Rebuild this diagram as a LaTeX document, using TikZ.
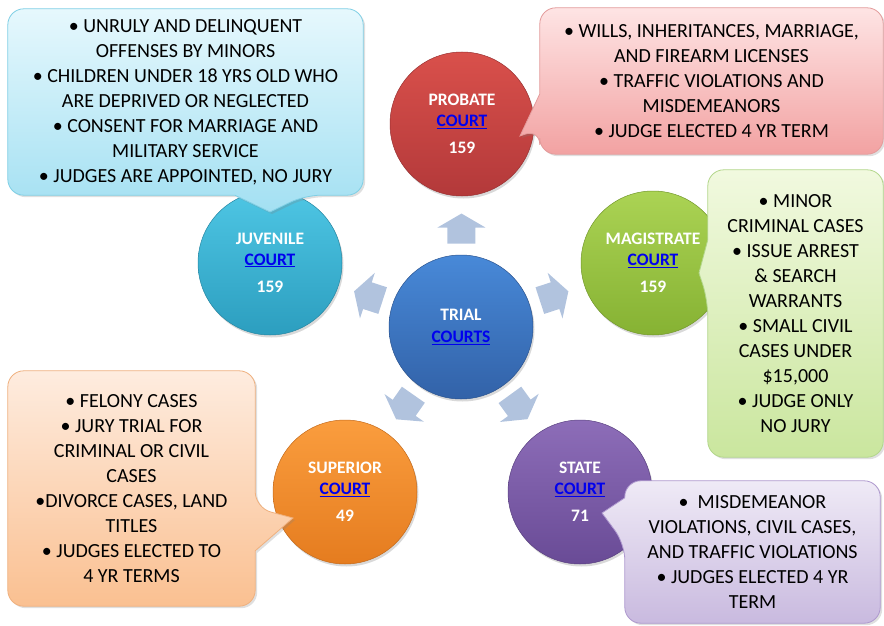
\documentclass[tikz,border=0pt]{standalone}
\usepackage{fontspec}
\setmainfont{Carlito}
\usetikzlibrary{calc,shadows}
\pgfdeclarelayer{bubbles}
\pgfdeclarelayer{notes}
\pgfsetlayers{main,bubbles,notes}

\definecolor{arrowblue}{HTML}{B1C3DE}
\definecolor{linkblue}{HTML}{0000EE}
\definecolor{trialtop}{HTML}{4889D8}\definecolor{trialbot}{HTML}{3262A8}
\definecolor{probtop}{HTML}{D9504B}\definecolor{probbot}{HTML}{B3393A}
\definecolor{juvtop}{HTML}{4EC6E4}\definecolor{juvbot}{HTML}{2C9EBF}
\definecolor{magtop}{HTML}{ABD354}\definecolor{magbot}{HTML}{86B233}
\definecolor{suptop}{HTML}{FA9D3E}\definecolor{supbot}{HTML}{E57C1F}
\definecolor{statetop}{HTML}{8D6DB8}\definecolor{statebot}{HTML}{694B96}
\definecolor{juvlight}{HTML}{E6F8FD}\definecolor{juvdark}{HTML}{A3E0F2}\definecolor{juvedge}{HTML}{7FCFE5}
\definecolor{problight}{HTML}{FEE4E4}\definecolor{probdark}{HTML}{F2A2A2}\definecolor{probedge}{HTML}{E39B9B}
\definecolor{maglight}{HTML}{F1F9DF}\definecolor{magdark}{HTML}{CAE69E}\definecolor{magedge}{HTML}{B2D68A}
\definecolor{suplight}{HTML}{FEECDF}\definecolor{supdark}{HTML}{FAC091}\definecolor{supedge}{HTML}{EFB07E}
\definecolor{statelight}{HTML}{EFEAF6}\definecolor{statedark}{HTML}{C9BADF}\definecolor{stateedge}{HTML}{AE98CE}

\newcommand\courtlink[1]{{\color{linkblue}\underline{#1}}}

\def\blockarrow#1#2{
\begin{scope}[shift={#1}, rotate=#2]
    \fill[arrowblue] (-15,-14) -- (1,-14) -- (1,-24) -- (15,0) -- (1,24) -- (1,14) -- (-15,14) -- cycle;
\end{scope}
}

\tikzset{
  court/.style={circle, minimum size=144pt, inner sep=0pt, align=center, text=white,
    font=\fontsize{17.5}{20.5}\selectfont\bfseries, draw=#1bot!85!black, line width=0.5pt,
    top color=#1top, bottom color=#1bot,
    drop shadow={opacity=0.3, shadow xshift=1.5pt, shadow yshift=-2.5pt}},
  note/.style={inner sep=0pt, align=center, font=\fontsize{20}{25}\selectfont},
  bubble/.style={draw=#1edge, line width=0.8pt, top color=#1light, bottom color=#1dark,
    drop shadow={opacity=0.25, shadow xshift=2pt, shadow yshift=-2pt}}
}

\begin{document}
\begin{tikzpicture}[x=1pt, y=-1pt]
    \useasboundingbox (0,0) rectangle (884,626);
    % courts
    \node[court=trial] (trial) at (461,327) {TRIAL\\[1pt]\courtlink{COURTS}};
    \node[court=prob] (probate) at (462,124) {PROBATE\\\courtlink{COURT}\\[7pt]159};
    \node[court=juv] (juvenile) at (270,263) {JUVENILE\\\courtlink{COURT}\\[7pt]159};
    \node[court=mag] (magistrate) at (653,263) {MAGISTRATE\\\courtlink{COURT}\\[7pt]159};
    \node[court=sup] (superior) at (345,492) {SUPERIOR\\\courtlink{COURT}\\[7pt]49};
    \node[court=state] (state) at (580,492) {STATE\\\courtlink{COURT}\\[7pt]71};
    \blockarrow{($(trial)!0.485!(probate)$)}{90};
    \blockarrow{($(trial)!0.485!(juvenile)$)}{162};
    \blockarrow{($(trial)!0.485!(magistrate)$)}{18};
    \blockarrow{($(trial)!0.485!(superior)$)}{235};
    \blockarrow{($(trial)!0.485!(state)$)}{306};
    % callouts
    \begin{pgfonlayer}{notes}
    \node[note, minimum width=355pt, minimum height=186pt] (juvbox) at (185.5,102)
        {\textbullet\ UNRULY AND DELINQUENT\\OFFENSES BY MINORS\\\textbullet\ CHILDREN UNDER 18 YRS OLD WHO\\ARE DEPRIVED OR NEGLECTED\\\textbullet\ CONSENT FOR MARRIAGE AND\\MILITARY SERVICE\\\textbullet\ JUDGES ARE APPOINTED, NO JURY};
    \node[note, minimum width=343pt, minimum height=146pt] (probbox) at (711.5,81)
        {\textbullet\ WILLS, INHERITANCES, MARRIAGE,\\AND FIREARM LICENSES\\\textbullet\ TRAFFIC VIOLATIONS AND\\MISDEMEANORS\\\textbullet\ JUDGE ELECTED 4 YR TERM};
    \node[note, minimum width=175pt, minimum height=287pt] (magbox) at (795.5,313.5)
        {\textbullet\ MINOR\\CRIMINAL CASES\\\textbullet\ ISSUE ARREST\\\& SEARCH\\WARRANTS\\\textbullet\ SMALL CIVIL\\CASES UNDER\\\$15,000\\\textbullet\ JUDGE ONLY\\NO JURY};
    \node[note, minimum width=247pt, minimum height=235pt] (supbox) at (131.5,488.5)
        {\textbullet\ FELONY CASES\\\textbullet\ JURY TRIAL FOR\\CRIMINAL OR CIVIL\\CASES\\\textbullet DIVORCE CASES, LAND\\TITLES\\\textbullet\ JUDGES ELECTED TO\\4 YR TERMS};
    \node[note, minimum width=255pt, minimum height=142pt] (statebox) at (752.5,552)
        {\textbullet~ MISDEMEANOR\\VIOLATIONS, CIVIL CASES,\\AND TRAFFIC VIOLATIONS\\\textbullet\ JUDGES ELECTED 4 YR\\TERM};
    \end{pgfonlayer}
    \coordinate (juvtip) at (270,212);
    \coordinate (probtip) at (520,136);
    \coordinate (magtip) at (699,273);
    \coordinate (suptip) at (293,518);
    \coordinate (statetip) at (602,513);
    \begin{pgfonlayer}{bubbles}
    \path[bubble=juv] [rounded corners=16pt] (juvbox.north west) -- (juvbox.north east) -- (juvbox.south east)
        -- ($(juvbox.south west)+(297,0)$) [sharp corners] -- (juvtip) -- ($(juvbox.south west)+(227,0)$)
        [rounded corners=16pt] -- (juvbox.south west) -- cycle;
    \path[bubble=prob] [rounded corners=16pt] (probbox.north west) -- (probbox.north east) -- (probbox.south east)
        -- (probbox.south west) -- ($(probbox.north west)+(0,121)$) [sharp corners] -- (probtip)
        -- ($(probbox.north west)+(0,86)$) [rounded corners=16pt] -- cycle;
    \path[bubble=mag] [rounded corners=16pt] (magbox.north west) -- (magbox.north east) -- (magbox.south east)
        -- (magbox.south west) -- ($(magbox.north west)+(0,130)$) [sharp corners] -- (magtip)
        -- ($(magbox.north west)+(0,70)$) [rounded corners=16pt] -- cycle;
    \path[bubble=sup] [rounded corners=16pt] (supbox.north west) -- (supbox.north east)
        -- ($(supbox.north east)+(0,137)$) [sharp corners] -- (suptip) -- ($(supbox.north east)+(0,180)$)
        [rounded corners=16pt] -- (supbox.south east) -- (supbox.south west) -- cycle;
    \path[bubble=state] [rounded corners=16pt] (statebox.north west) -- (statebox.north east) -- (statebox.south east)
        -- (statebox.south west) -- ($(statebox.north west)+(0,63)$) [sharp corners] -- (statetip)
        -- ($(statebox.north west)+(0,17)$) [rounded corners=16pt] -- cycle;
    \end{pgfonlayer}
\end{tikzpicture}
\end{document}
